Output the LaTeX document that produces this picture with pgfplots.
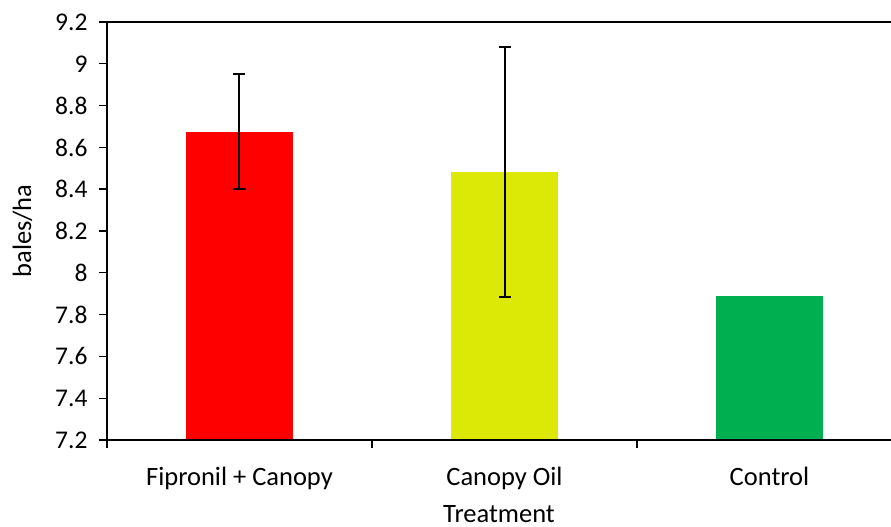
\documentclass[border=0pt]{standalone}
\usepackage{pgfplots}
\pgfplotsset{compat=1.18}
\usepackage{fontspec}
\setmainfont{Carlito}
\definecolor{cred}{HTML}{FF0000}
\definecolor{cyel}{HTML}{DCE805}
\definecolor{cgrn}{HTML}{00B050}
\begin{document}
\begin{tikzpicture}
\begin{axis}[
  scale only axis,
  width=784bp, height=418bp,
  xmin=-0.5, xmax=2.4585,
  ymin=7.2, ymax=9.2,
  ytick={7.2,7.4,...,9.21},
  yticklabels={7.2,7.4,7.6,7.8,8,8.2,8.4,8.6,8.8,9,9.2},
  axis line style={draw=none},
  every tick/.style={black, line width=1.4bp},
  tick align=outside,
  xtick pos=left, ytick pos=left,
  major tick length=8bp,
  xtick={-0.5,0.5,1.5},
  xticklabels={},
  extra x ticks={0,1,2},
  extra x tick labels={Fipronil + Canopy, Canopy Oil, Control},
  extra x tick style={major tick length=0pt},
  ticklabel style={font=\fontsize{25.5bp}{28bp}\selectfont},
  xticklabel style={font=\fontsize{26.5bp}{30bp}\selectfont, yshift=-24bp},
  yticklabel style={xshift=-8bp},
  xlabel={Treatment},
  ylabel={bales/ha},
  every axis x label/.style={at={(rel axis cs:0.5,0)}, anchor=base, yshift=-82bp, font=\fontsize{26.5bp}{30bp}\selectfont},
  every axis y label/.style={at={(rel axis cs:0,0.5)}, anchor=center, rotate=90, yshift=84.5bp, font=\fontsize{26.5bp}{30bp}\selectfont},
  clip=false,
]
\addplot[ybar, bar width=107bp, fill=cred, draw=none, bar shift=0pt, line width=2bp,
  error bars/.cd, y dir=both, y explicit,
  error bar style={line width=2bp, draw=black},
  error mark options={rotate=90, mark size=6bp, line width=2bp, draw=black}]
  coordinates {(0,8.675) +- (0,0.275)};
\addplot[ybar, bar width=107bp, fill=cyel, draw=none, bar shift=0pt, line width=2bp,
  error bars/.cd, y dir=both, y explicit,
  error bar style={line width=2bp, draw=black},
  error mark options={rotate=90, mark size=6bp, line width=2bp, draw=black}]
  coordinates {(1,8.482) +- (0,0.6)};
\addplot[ybar, bar width=107bp, fill=cgrn, draw=none, bar shift=0pt]
  coordinates {(2,7.889)};
\draw[line width=1.6bp] (rel axis cs:1,1) -- (rel axis cs:0,1) -- (rel axis cs:0,0) -- (rel axis cs:1,0);
\pgfplotsinvokeforeach{7.2,7.4,7.6,7.8,8.0,8.2,8.4,8.6,8.8,9.0,9.2}{
  \draw[line width=1.4bp] (axis cs:-0.5,#1) -- ([xshift=-8bp]axis cs:-0.5,#1);
}
\end{axis}
\pgfresetboundingbox
\path (-107bp,-87bp) rectangle (784bp,440bp);
\end{tikzpicture}
\end{document}
